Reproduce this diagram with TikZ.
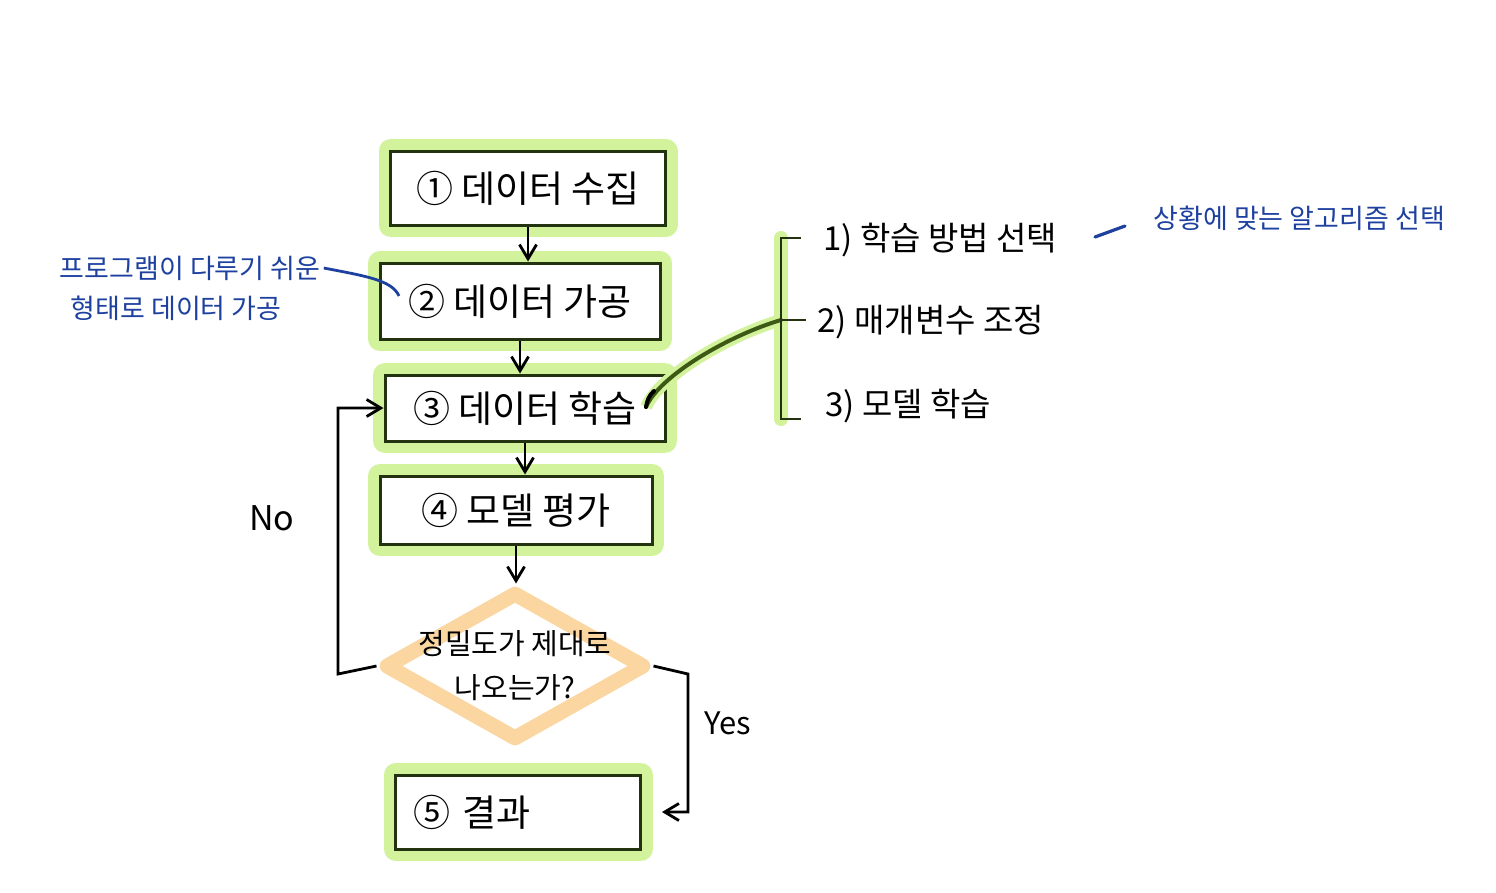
\documentclass[tikz,border=0pt]{standalone}
\usepackage{fontspec}
\setmainfont{Noto Sans CJK KR}
\usetikzlibrary{arrows.meta,shapes.geometric}
\definecolor{hilite}{RGB}{210,242,155}
\definecolor{boxline}{RGB}{35,50,15}
\definecolor{linkgreen}{RGB}{60,90,20}
\definecolor{decorange}{RGB}{251,214,160}
\definecolor{noteblue}{RGB}{30,65,160}

\begin{document}
\begin{tikzpicture}[x=1pt, y=-1pt, >={Straight Barb[length=5mm, width=6mm]},
	every node/.style={font=\fontsize{37}{40}\selectfont},
	stepbox/.style={draw=boxline, line width=3pt, fill=white, inner sep=0pt,
		preaction={draw=hilite, line width=24pt, line join=round}},
	decision/.style={shape=diamond, draw=decorange, line width=15pt, line join=round, inner sep=0pt},
	flow/.style={draw=black, line width=2.8pt, ->},
	note/.style={text=noteblue, font=\fontsize{27}{34}\selectfont}]
	\useasboundingbox[fill=white] (0,0) rectangle (1496,892);
	% main flow
	\node[stepbox, minimum width=275, minimum height=74] (collect) at (528,188) {① 데이터 수집};
	\node[stepbox, minimum width=280, minimum height=76] (prep) at (520,301) {② 데이터 가공};
	\node[stepbox, minimum width=280, minimum height=66] (train) at (525,408) {③ 데이터 학습};
	\node[stepbox, minimum width=272, minimum height=68] (eval) at (516,510) {④ 모델 평가};
	\node[decision, minimum width=262, minimum height=150] (check) at (515,666) {};
	\node[font=\fontsize{29}{44}\selectfont, align=center] (checktxt) at (check.center) {정밀도가 제대로\\나오는가?};
	\node[stepbox, minimum width=245, minimum height=74, text width=210, align=left] (result) at (518,812) {⑤ 결과};
	\draw[flow] (collect.south) -- (collect.south |- prep.north);
	\draw[flow] (prep.south) -- (prep.south |- train.north);
	\draw[flow] (train.south) -- (train.south |- eval.north);
	\draw[flow] (eval.south) -- (eval.south |- check.north);
	% loops
	\coordinate (noleft) at (338,674);
	\coordinate (yesright) at (688,674);
	\draw[flow] (check.west) -- (noleft) |- (train.west);
	\draw[flow, shorten >=20pt] (check.east) -- (yesright) |- (result.east);
	\node[font=\fontsize{34}{36}\selectfont\itshape] (no) at (272,518) {No};
	\node[font=\fontsize{31}{36}\selectfont] (yes) at (728,723) {Yes};
	% left note
	\node[note] (prepnote1) at (190,268) {프로그램이 다루기 쉬운};
	\node[note] (prepnote2) at (176,308) {형태로 데이터 가공};
	\coordinate (prepend) at (399,296);
	\draw[noteblue, line width=2.8pt] (prepnote1.east) .. controls (365,276) and (392,280) .. (prepend);
	% training details
	\coordinate (brtop) at (781,238);
	\coordinate (brmid) at (781,320);
	\coordinate (brbot) at (781,419);
	\coordinate (trainout) at (646,407);
	\draw[hilite, line width=14pt, line cap=round] (brtop) -- (brbot);
	\draw[linkgreen, line width=4pt, line cap=round, preaction={draw=hilite, line width=12pt}]
		(trainout) .. controls (660,375) and (730,335) .. (brmid);
	\draw[black, line width=4pt, line cap=round] (trainout) .. controls (647,401) and (649,395) .. (654,391);
	\draw[boxline, line width=2.8pt] (801,238) -- (brtop) -- (brbot) -- (801,419);
	\draw[boxline, line width=2.8pt] (brmid) -- (806,320);
	\node[anchor=west, font=\fontsize{33}{36}\selectfont] (step1) at (820,240) {1) 학습 방법 선택};
	\node[anchor=west, font=\fontsize{33}{36}\selectfont] (step2) at (814,322) {2) 매개변수 조정};
	\node[anchor=west, font=\fontsize{33}{36}\selectfont] (step3) at (822,406) {3) 모델 학습};
	\node[note, anchor=west] (algonote) at (1150,218) {상황에 맞는 알고리즘 선택};
	\coordinate (dashfrom) at (1095,237);
	\coordinate (dashto) at (1125,226);
	\draw[noteblue, line width=3.2pt, line cap=round] (dashfrom) -- (dashto);
\end{tikzpicture}
\end{document}
